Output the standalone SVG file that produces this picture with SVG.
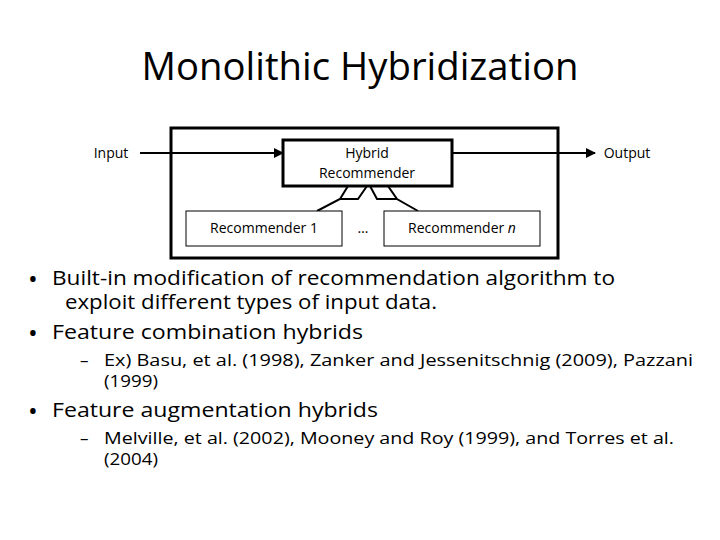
<svg xmlns="http://www.w3.org/2000/svg" width="720" height="540" viewBox="0 0 720 540">
<style>
text{font-family:"Open Sans","Liberation Sans",sans-serif;fill:#000}
.b{fill:#fff;stroke:#000}
.l{fill:none;stroke:#000;stroke-width:2}
.t{font-size:20px}
.s{font-size:17px}
.n{font-size:14px}
.d{font-size:26px}
</style>
<defs><marker id="a" markerWidth="10" markerHeight="10" refX="9" refY="5" orient="auto" markerUnits="userSpaceOnUse"><path d="M0,0L10,5L0,10z"/></marker></defs>
<rect width="720" height="540" fill="#fff"/>
<text x="360" y="80" font-size="38" text-anchor="middle" textLength="437" lengthAdjust="spacingAndGlyphs">Monolithic Hybridization</text>
<g id="outer"><rect x="171" y="128" width="387" height="130" fill="none" stroke="#000" stroke-width="3"/></g>
<g id="connectors">
<line class="l" x1="140" y1="153" x2="283" y2="153" stroke-width="4" marker-end="url(#a)"/>
<line class="l" x1="452" y1="153" x2="595" y2="153" stroke-width="4" marker-end="url(#a)"/>
<polyline class="l" points="317,211 340,199 348,186"/>
<polyline class="l" points="340,199 358,199 367,186"/>
<polyline class="l" points="418,211 397,199 388,186"/>
<polyline class="l" points="397,199 377,199 370,186"/>
</g>
<g id="input"><text class="n" x="111" y="158" text-anchor="middle">Input</text></g>
<g id="output"><text class="n" x="627" y="158" text-anchor="middle">Output</text></g>
<g id="hybrid"><rect class="b" x="283" y="140" width="169" height="46" stroke-width="3"/><text class="n" x="367" y="158" text-anchor="middle">Hybrid</text><text class="n" x="367" y="178" text-anchor="middle">Recommender</text></g>
<g id="rec1"><rect class="b" x="186" y="211" width="156" height="35"/><text class="n" x="264" y="233" text-anchor="middle">Recommender 1</text></g>
<g id="dots"><text class="n" x="363" y="233" text-anchor="middle">…</text></g>
<g id="recn"><rect class="b" x="384" y="211" width="156" height="35"/><text class="n" x="462" y="233" text-anchor="middle">Recommender <tspan font-style="italic">n</tspan></text></g>
<text class="d" x="28" y="288">•</text>
<text class="t" x="52" y="285" textLength="563" lengthAdjust="spacingAndGlyphs">Built-in modification of recommendation algorithm to</text>
<text class="t" x="65" y="309" textLength="372" lengthAdjust="spacingAndGlyphs">exploit different types of input data.</text>
<text class="d" x="28" y="342">•</text>
<text class="t" x="52" y="339" textLength="311" lengthAdjust="spacingAndGlyphs">Feature combination hybrids</text>
<text class="s" x="80" y="366">–</text>
<text class="s" x="104" y="366" textLength="589" lengthAdjust="spacingAndGlyphs">Ex) Basu, et al. (1998), Zanker and Jessenitschnig (2009), Pazzani</text>
<text class="s" x="104" y="387" textLength="54" lengthAdjust="spacingAndGlyphs">(1999)</text>
<text class="d" x="28" y="420">•</text>
<text class="t" x="52" y="417" textLength="326" lengthAdjust="spacingAndGlyphs">Feature augmentation hybrids</text>
<text class="s" x="80" y="444">–</text>
<text class="s" x="104" y="444" textLength="570" lengthAdjust="spacingAndGlyphs">Melville, et al. (2002), Mooney and Roy (1999), and Torres et al.</text>
<text class="s" x="104" y="465" textLength="54" lengthAdjust="spacingAndGlyphs">(2004)</text>
</svg>
